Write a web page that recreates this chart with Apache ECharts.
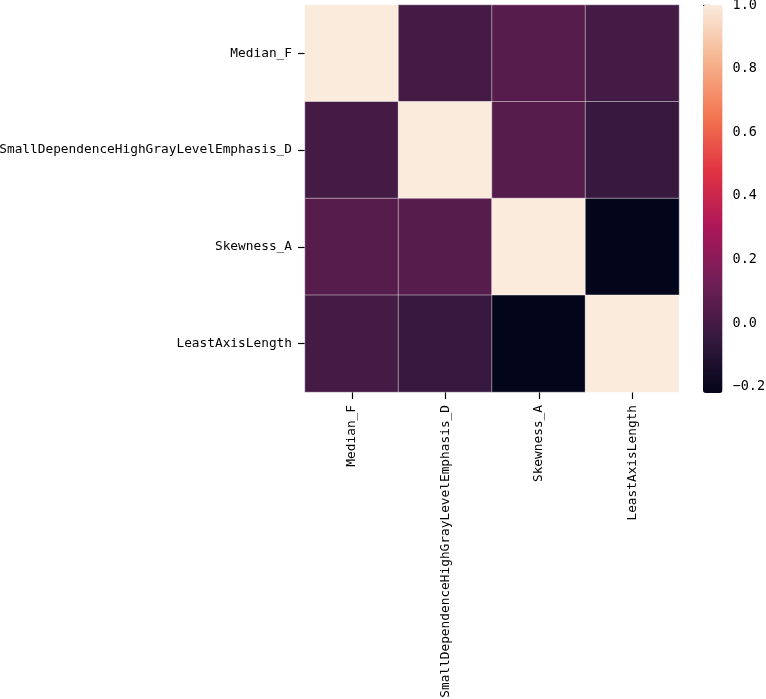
<!DOCTYPE html>
<html>
<head>
<meta charset="utf-8">
<script src="https://cdn.jsdelivr.net/npm/echarts@6/dist/echarts.min.js"></script>
<style>
html,body{margin:0;padding:0;background:#fff;}
#chart{width:766px;height:699px;}
</style>
</head>
<body>
<div id="chart"></div>
<script>
const labels = ['Median_F', 'SmallDependenceHighGrayLevelEmphasis_D', 'Skewness_A', 'LeastAxisLength'];
const row0 = [1.0, 0.0, 0.05, 0.0];
const row1 = [0.0, 1.0, 0.05, -0.04];
const row2 = [0.05, 0.05, 1.0, -0.219];
const row3 = [0.0, -0.04, -0.219, 1.0];
const colorbarTicks = [-0.2, 0.0, 0.2, 0.4, 0.6, 0.8, 1.0];
const vMin = -0.219, vMax = 1.0;
const rocket = ['#03051a', '#35193e', '#701f57', '#ad1759', '#e13342', '#f37651', '#f6b48f', '#faebdd'];

const rows = [row0, row1, row2, row3];
const data = [];
rows.forEach((r, yi) => r.forEach((v, xi) => data.push([xi, yi, v])));

const font = 'DejaVu Sans Mono';
const chart = echarts.init(document.getElementById('chart'), null, {renderer: 'canvas'});
chart.setOption({
  animation: false,
  backgroundColor: '#ffffff',
  grid: [
    {left: 305, top: 5, width: 374, height: 387, containLabel: false, outerBoundsMode: 'none'},
    {left: 703, top: 5, width: 19.5, height: 388, containLabel: false, outerBoundsMode: 'none'}
  ],
  xAxis: [
    {type: 'category', gridIndex: 0, data: labels, position: 'bottom',
     axisLine: {show: false}, splitLine: {show: false},
     axisTick: {show: true, alignWithLabel: true, length: 7, lineStyle: {color: '#000', width: 1.2}},
     axisLabel: {rotate: 90, margin: 13, color: '#000', fontFamily: font, fontSize: 12.8}},
    {type: 'value', gridIndex: 1, show: false, min: 0, max: 1}
  ],
  yAxis: [
    {type: 'category', gridIndex: 0, data: labels, inverse: true,
     axisLine: {show: false}, splitLine: {show: false},
     axisTick: {show: true, alignWithLabel: true, length: 7, lineStyle: {color: '#000', width: 1.2}},
     axisLabel: {margin: 13, color: '#000', fontFamily: font, fontSize: 12.8}},
    {type: 'value', gridIndex: 1, position: 'right', min: vMin, max: vMax,
     axisLine: {show: false}, splitLine: {show: false},
     axisTick: {show: true, length: 7, customValues: colorbarTicks, lineStyle: {color: '#000', width: 1.2}},
     axisLabel: {margin: 10, color: '#000', fontFamily: font, fontSize: 13.5, customValues: colorbarTicks,
       formatter: v => (v < 0 ? '\u2212' : '') + Math.abs(v).toFixed(1)}}
  ],
  visualMap: {
    type: 'continuous', min: vMin, max: vMax, seriesIndex: 0,
    calculable: false, hoverLink: false, realtime: false,
    orient: 'vertical', left: 703, top: 5, padding: 0,
    itemWidth: 19.5, itemHeight: 388, text: null,
    inRange: {color: rocket}
  },
  series: [{
    type: 'heatmap', xAxisIndex: 0, yAxisIndex: 0, data: data,
    itemStyle: {borderColor: 'rgba(255,255,255,0.75)', borderWidth: 0.6},
    emphasis: {disabled: true}
  }]
});
</script>
</body>
</html>
